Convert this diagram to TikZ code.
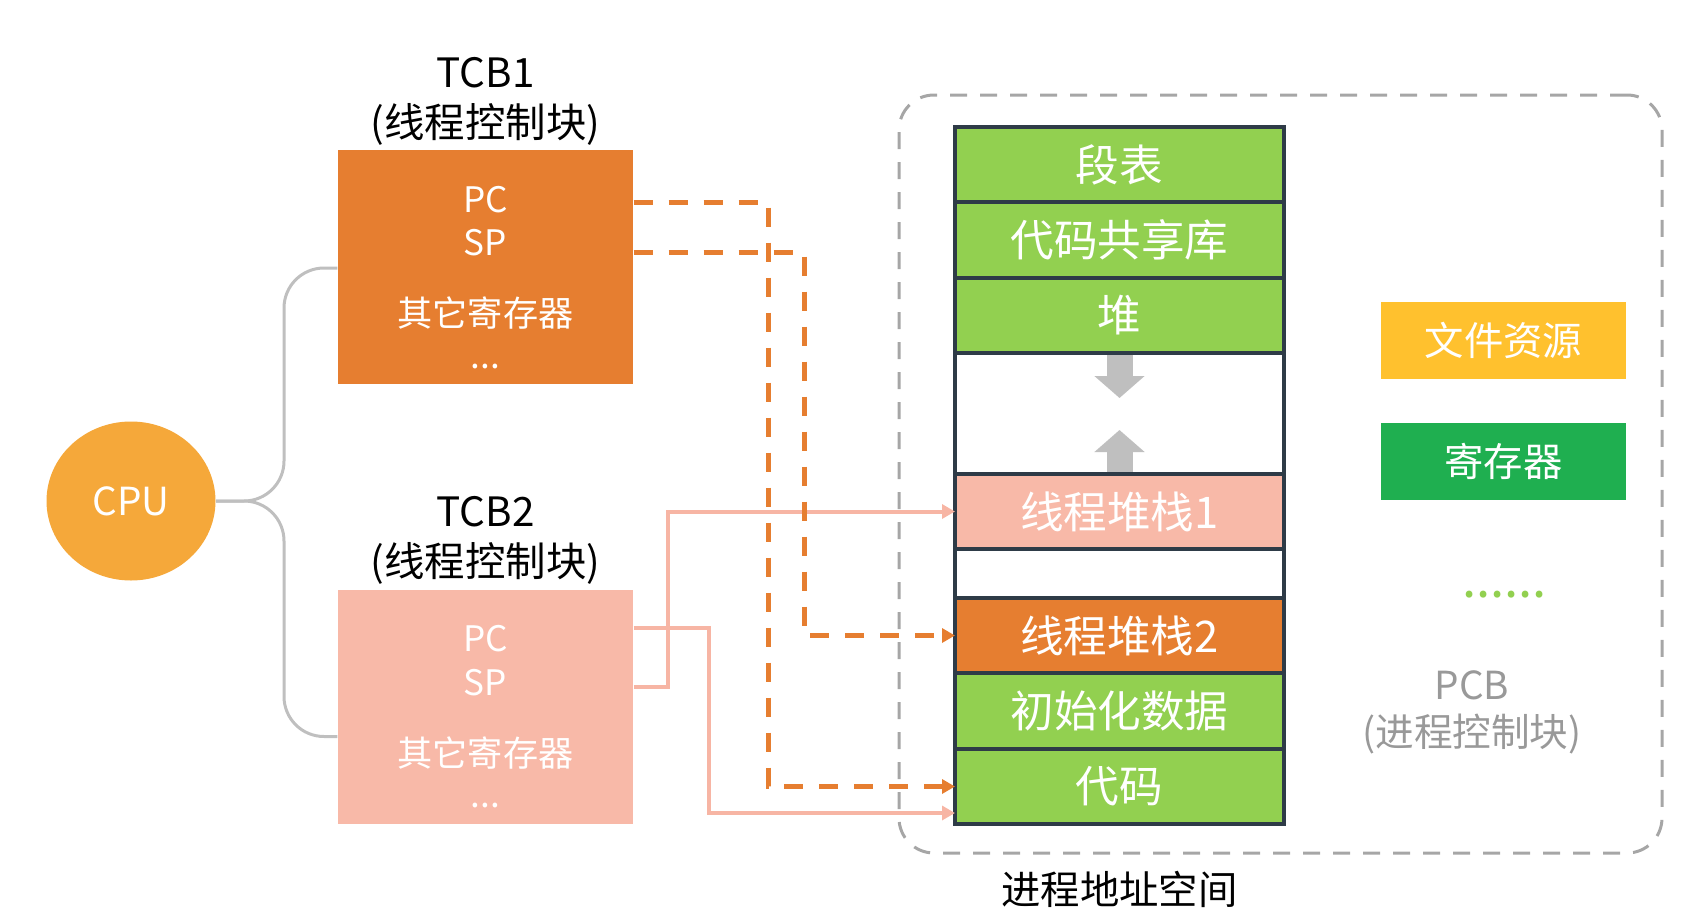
\documentclass[tikz,border=0pt]{standalone}
\usepackage{fontspec}
\setmainfont{Noto Sans CJK SC}
\usetikzlibrary{shapes.geometric,fit,positioning,arrows.meta,calc}

\definecolor{cpuorange}{HTML}{F5A83A}
\definecolor{tcborange}{HTML}{E67E30}
\definecolor{tcbpink}{HTML}{F8B9A8}
\definecolor{seggreen}{HTML}{92D050}
\definecolor{filegold}{HTML}{FFC12E}
\definecolor{reggreen}{HTML}{1FAF50}
\definecolor{stackline}{HTML}{2E3B47}
\definecolor{linkpink}{HTML}{F7B5A4}

\begin{document}
\begin{tikzpicture}
		\tikzstyle{cpu}=[ellipse, fill=cpuorange, text=white, minimum width=16.9mm, minimum height=15.9mm, inner sep=0pt, font=\fontsize{11}{13}\selectfont]
		\tikzstyle{tcb}=[rectangle, minimum width=29.5mm, minimum height=23.4mm]
		\tikzstyle{reg}=[text=white, font=\fontsize{10}{12}\selectfont]
		\tikzstyle{title}=[align=center, inner sep=1pt, font=\fontsize{11.5}{14.2}\selectfont]
		\tikzstyle{seg}=[rectangle, draw=stackline, line width=1pt, minimum width=32.9mm, minimum height=7.5mm, fill=seggreen, text=white, outer sep=0pt, font=\fontsize{12.4}{14}\selectfont]
		\tikzstyle{legend}=[rectangle, minimum width=24.5mm, minimum height=7.7mm, text=white, font=\fontsize{11.2}{13}\selectfont]
		\tikzstyle{brace}=[draw=black!25, line width=0.3mm, rounded corners=4mm]
		\tikzstyle{growarrow}=[draw=black!25, line width=2.6mm, -{Triangle[width=4.9mm,length=2.2mm]}]
		\tikzstyle{tcboneline}=[draw=tcborange, line width=0.5mm, dash pattern=on 1.9mm off 1.6mm, -{Triangle[width=1.4mm,length=1.3mm]}]
		\tikzstyle{tcbtwoline}=[draw=linkpink, line width=0.4mm, -{Triangle[width=1.4mm,length=1.3mm]}]
		\useasboundingbox (0,0) rectangle (17.08,-9.12);
		
		% CPU and the two thread control blocks
		\node[cpu]                    (cpu)  at (1.31,-5.01) {CPU};
		\node[tcb, fill=tcborange]    (tcb1) at (4.855,-2.67) {};
		\node[tcb, fill=tcbpink]      (tcb2) at (4.855,-7.065) {};
		\node[title] (tcb1name) [above=0pt of tcb1] {TCB1\\(线程控制块)};
		\node[title] (tcb2name) [above=0pt of tcb2] {TCB2\\(线程控制块)};
		
		\node[reg] (pc1)   at (4.855,-2.00) {PC};
		\node[reg] (sp1)   at (4.855,-2.43) {SP};
		\node[reg] (oth1)  at (4.855,-3.13) {其它寄存器};
		\node[reg] (dots1) at (4.855,-3.67) {...};
		\node[reg] (pc2)   at (4.855,-6.39) {PC};
		\node[reg] (sp2)   at (4.855,-6.83) {SP};
		\node[reg] (oth2)  at (4.855,-7.53) {其它寄存器};
		\node[reg] (dots2) at (4.855,-8.06) {...};
		
		% process control block
		\node[draw=black!35, line width=0.3mm, dash pattern=on 1.7mm off 1.3mm, rounded corners=3.5mm,
		      minimum width=76.3mm, minimum height=75.8mm] (pcb) at (12.805,-4.74) {};
		
		\node[seg]                    (segtab) at (11.195,-1.645) {段表};
		\node[seg, minimum height=7.6mm] (lib) [below=0pt of segtab] {代码共享库};
		\node[seg]                    (heap)   [below=0pt of lib] {堆};
		\node[seg, fill=white, minimum height=12.1mm] (gap1) [below=0pt of heap] {};
		\node[seg, fill=tcbpink]      (stack1) [below=0pt of gap1] {线程堆栈1};
		\node[seg, fill=white, minimum height=4.9mm]  (gap2) [below=0pt of stack1] {};
		\node[seg, fill=tcborange]    (stack2) [below=0pt of gap2] {线程堆栈2};
		\node[seg, minimum height=7.6mm] (data) [below=0pt of stack2] {初始化数据};
		\node[seg]                    (code)   [below=0pt of data] {代码};
		\node[font=\fontsize{11.2}{13}\selectfont] (aspace) [below=0.35cm of code] {进程地址空间};
		
		\node[legend, fill=filegold]  (files) at (15.035,-3.405) {文件资源};
		\node[legend, fill=reggreen]  (regs)  [below=0.43cm of files] {寄存器};
		\node[text=seggreen, anchor=base, font=\fontsize{14.5}{16}\selectfont] (more) at (15.045,-5.97) {......};
		\node[align=center, text=black!40, font=\fontsize{11}{13.4}\selectfont] (pcbname) at (14.72,-7.125) {PCB\\(进程控制块)};
		
		% heap and stacks grow toward each other
		\coordinate (growdown) at (11.195,-3.98);
		\coordinate (growup)   at (11.195,-4.30);
		\draw[growarrow] ([yshift=-0.5pt]heap.south) -- (growdown);
		\draw[growarrow] ([yshift=0.5pt]gap1.south) -- (growup);
		
		% CPU switches between TCBs
		\coordinate (brace) at (2.84,-5.01);
		\draw[brace] (cpu.east) -- (brace) |- ($(tcb1.west)+(0,-0.01)$);
		\draw[brace] (cpu.east) -- (brace) |- ($(tcb2.west)+(0,-0.30)$);
		
		% registers point into the address space
		\coordinate (bend1) at (7.68,-5);
		\coordinate (bend2) at (8.04,-5);
		\coordinate (bend3) at (6.68,-6);
		\coordinate (bend4) at (7.09,-7);
		\draw[tcbtwoline] ($(sp2 -| tcb2.east)+(0,-0.04)$) -| (bend3) |- (stack1.west);
		\draw[tcbtwoline] ($(pc2 -| tcb2.east)+(0,0.11)$) -| (bend4) |- ($(code.south west)+(0,0.11)$);
		\draw[tcboneline] ($(pc1 -| tcb1.east)+(0,-0.02)$) -| (bend1) |- (code.west);
		\draw[tcboneline] ($(sp1 -| tcb1.east)+(0,-0.09)$) -| (bend2) |- (stack2.west);
		
		\end{tikzpicture}
\end{document}
